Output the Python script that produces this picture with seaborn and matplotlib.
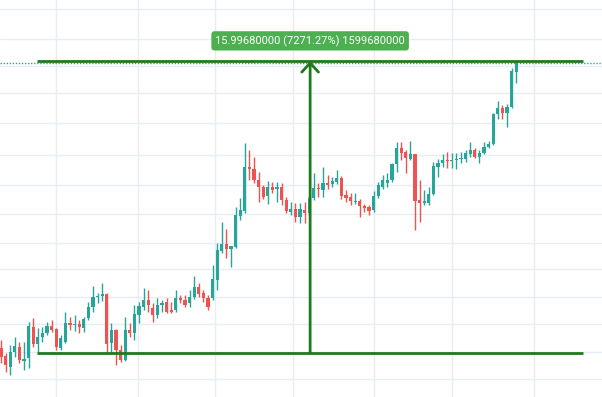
import numpy as np
import pandas as pd
import matplotlib
matplotlib.use('Agg')
import matplotlib.pyplot as plt
import seaborn as sns

sns.set_theme(style="whitegrid")
plt.rcParams['font.family'] = ['Roboto', 'DejaVu Sans']

UP = '#26a69a'
DOWN = '#ef5350'
MEASURE = '#1f7a1f'
LABEL_BG = '#4caf50'

# OHLC, one value per candle (log price chart)
opens = [
    0.237, 0.211, 0.179, 0.223, 0.240, 0.196, 0.204, 0.323, 0.251, 0.278,
    0.295, 0.327, 0.313, 0.237, 0.259, 0.342, 0.332, 0.337, 0.318, 0.368,
    0.433, 0.502, 0.510, 0.525, 0.255, 0.309, 0.230, 0.198, 0.309, 0.295,
    0.385, 0.433, 0.480, 0.427, 0.385, 0.446, 0.466, 0.414, 0.414, 0.495,
    0.480, 0.459, 0.502, 0.582, 0.533, 0.495, 0.495, 0.645, 0.988, 1.096,
    1.018, 1.048, 1.655, 1.781, 3.405, 3.307, 2.812, 2.536, 2.222, 2.536,
    2.463, 2.536, 2.094, 1.756, 1.834, 1.631, 1.807, 1.730, 2.158, 2.499,
    2.426, 2.691, 2.652, 2.731, 2.897, 2.255, 2.190, 2.033, 2.064, 1.918,
    1.890, 1.807, 2.222, 2.536, 2.691, 2.812, 3.560, 4.506, 4.248, 3.832,
    4.125, 2.094, 2.004, 2.004, 2.289, 3.405, 3.613, 3.776, 3.721, 3.776,
    3.832, 3.832, 4.125, 4.375, 3.947, 4.186, 4.573, 4.779, 7.44, 8.13,
    7.55, 8.25, 13.72]
highs = [
    0.266, 0.220, 0.248, 0.278, 0.259, 0.259, 0.347, 0.368, 0.318, 0.323,
    0.347, 0.358, 0.318, 0.287, 0.403, 0.374, 0.385, 0.358, 0.374, 0.466,
    0.590, 0.533, 0.617, 0.530, 0.342, 0.313, 0.248, 0.374, 0.342, 0.446,
    0.466, 0.573, 0.556, 0.459, 0.495, 0.480, 0.495, 0.466, 0.556, 0.517,
    0.517, 0.556, 0.684, 0.617, 0.556, 0.517, 0.805, 1.112, 1.514, 1.367,
    1.070, 1.890, 2.158, 4.850, 4.375, 3.947, 3.164, 2.613, 2.772, 2.731,
    2.731, 2.691, 2.190, 2.033, 2.004, 2.004, 2.033, 2.255, 3.118, 2.691,
    3.405, 3.028, 2.940, 3.258, 2.980, 2.426, 2.323, 2.323, 2.125, 1.974,
    1.946, 2.393, 2.731, 3.028, 3.118, 3.613, 4.922, 4.922, 4.375, 4.995,
    4.150, 2.812, 2.426, 2.536, 3.666, 3.832, 4.125, 4.248, 4.186, 4.186,
    4.248, 4.375, 4.922, 4.506, 4.375, 4.922, 4.995, 7.55, 9.02, 8.50,
    8.63, 14.56, 16.2168]
lows = [
    0.190, 0.166, 0.159, 0.207, 0.190, 0.171, 0.176, 0.240, 0.220, 0.259,
    0.287, 0.300, 0.230, 0.230, 0.255, 0.309, 0.304, 0.295, 0.300, 0.358,
    0.403, 0.459, 0.473, 0.220, 0.220, 0.184, 0.193, 0.196, 0.278, 0.266,
    0.342, 0.414, 0.403, 0.347, 0.368, 0.403, 0.397, 0.397, 0.403, 0.459,
    0.433, 0.433, 0.487, 0.502, 0.466, 0.414, 0.480, 0.556, 0.959, 0.891,
    0.781, 1.033, 1.560, 1.730, 2.812, 2.691, 2.033, 2.125, 1.974, 2.323,
    2.033, 1.946, 1.730, 1.679, 1.514, 1.492, 1.492, 1.679, 2.094, 2.190,
    2.190, 2.463, 2.536, 2.652, 2.125, 2.033, 1.946, 1.974, 1.631, 1.755,
    1.679, 1.755, 2.158, 2.463, 2.536, 2.731, 3.164, 3.776, 3.118, 3.776,
    1.346, 1.514, 1.946, 1.946, 2.255, 2.940, 3.405, 3.356, 3.356, 3.307,
    3.613, 3.666, 3.947, 3.889, 3.613, 4.125, 4.506, 4.709, 6.90, 6.90,
    6.13, 8.13, 11.73]
closes = [
    0.207, 0.184, 0.223, 0.244, 0.198, 0.201, 0.327, 0.251, 0.278, 0.295,
    0.327, 0.309, 0.240, 0.274, 0.342, 0.332, 0.337, 0.323, 0.363, 0.433,
    0.502, 0.510, 0.525, 0.251, 0.309, 0.230, 0.198, 0.309, 0.295, 0.391,
    0.440, 0.480, 0.446, 0.385, 0.446, 0.459, 0.403, 0.403, 0.495, 0.480,
    0.446, 0.502, 0.582, 0.525, 0.495, 0.433, 0.654, 1.003, 1.096, 1.018,
    1.064, 1.679, 1.807, 3.405, 3.307, 2.812, 2.536, 2.190, 2.536, 2.426,
    2.536, 2.094, 1.781, 1.834, 1.631, 1.834, 1.730, 2.158, 2.499, 2.463,
    2.691, 2.613, 2.772, 2.897, 2.222, 2.158, 2.064, 2.064, 1.918, 1.862,
    1.781, 2.222, 2.613, 2.812, 2.812, 3.560, 4.506, 4.186, 3.889, 4.125,
    2.064, 2.004, 2.064, 2.289, 3.456, 3.613, 3.776, 3.721, 3.776, 3.832,
    3.889, 4.186, 4.375, 3.947, 4.186, 4.573, 4.779, 7.44, 8.13, 7.55,
    8.25, 13.93, 15.72]

# price range measure tool
measure_low = 0.22
measure_high = 16.2168
measure_from, measure_to, measure_at = 7.8, 126.5, 67.2

# background grid positions (bar index / price)
grid_bars = [11.9, 29.7, 46.5, 63.4, 81.1, 98.0, 115.9]
grid_prices = [0.15, 0.223, 0.337, 0.502, 0.758, 1.11, 1.70, 2.61, 4.06,
               6.5, 10.1, 15.1, 22.4, 34.9]

df = pd.DataFrame({'open': opens, 'high': highs, 'low': lows, 'close': closes})
df['bar'] = np.arange(len(df))
df['color'] = np.where(df['close'] >= df['open'], UP, DOWN)
body_lo = df[['open', 'close']].min(axis=1)
body_hi = np.maximum(df[['open', 'close']].max(axis=1), body_lo * 1.018)

fig = plt.figure(figsize=(6.02, 3.97), dpi=100)
ax = fig.add_axes([0, 0, 1, 1])
ax.set_yscale('log')
ax.set_xlim(-0.22, 130.65)
ax.set_ylim(0.1151, 39.82)

ax.set_xticks(grid_bars)
ax.set_yticks(grid_prices)
ax.minorticks_off()
ax.tick_params(length=0, labelleft=False, labelbottom=False)
ax.grid(True, color='#e6edf3', lw=1)
ax.set_axisbelow(True)
for s in ax.spines.values():
    s.set_visible(False)

# candles
ax.vlines(df['bar'], df['low'], df['high'], colors=df['color'], lw=1, zorder=2)
ax.bar(df['bar'], body_hi - body_lo, bottom=body_lo, width=0.66,
       color=df['color'], linewidth=0, zorder=3)

# last price line
ax.axhline(closes[-1], color=UP, lw=1, ls=(0, (1, 1.2)), zorder=2)

# measure tool
ax.hlines([measure_low, measure_high], measure_from, measure_to,
          color=MEASURE, lw=2, zorder=4)
ax.annotate('', xy=(measure_at, measure_high), xytext=(measure_at, measure_low),
            arrowprops=dict(arrowstyle='->,head_length=0.65,head_width=0.6',
                            color=MEASURE, lw=2, shrinkA=0, shrinkB=0,
                            mutation_scale=10), zorder=4)
diff = measure_high - measure_low
label = f"{diff:.8f} ({diff / measure_low * 100:.2f}%) {round(diff * 1e8)}"
ax.annotate(label, xy=(measure_at, measure_high), xytext=(0, 14.5),
            textcoords='offset points', ha='center', va='center',
            color='white', fontsize=8, zorder=5,
            bbox=dict(boxstyle='round,pad=0.35,rounding_size=0.3',
                      fc=LABEL_BG, ec='none'))

fig.savefig('out.png', dpi=100)
